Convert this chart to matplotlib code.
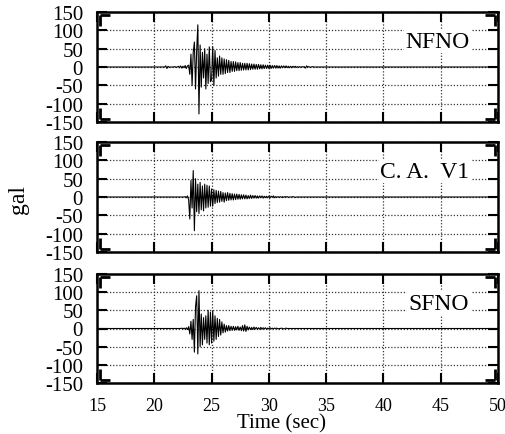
import numpy as np
import matplotlib
matplotlib.use('Agg')
import matplotlib.pyplot as plt

plt.rcParams['font.family'] = ['Liberation Serif', 'DejaVu Serif']
plt.rcParams['axes.unicode_minus'] = False

# sample times: flat start, 0.1 s samples from 20.0 to 34.0 s, flat end
t_start = 15.0
t_end = 50.0
t_first = 20.0
dt = 0.1

# accelerations (gal), one value per 0.1 s from 20.0 s to 34.0 s
nfno = [
    0, 0, 0, 0, 0, 0, 0, 0, 0, 0,
    3, -4, 2, -1, 0, 0, 0, 0, 1, -1,
    0, 2, -2, 3, -3, 2, -2, 4, -4, 3,
    5, -20, 35, -50, 40, 68, -60, 45, 115, -128,
    60, -55, 40, -30, 50, -60, 35, -45, 55, -40,
    -35, 55, -50, 45, -30, 25, -25, 30, -20, 25,
    -20, 22, -18, 20, -15, 18, -15, 15, -12, 15,
    -12, 14, -10, 12, -10, 12, -9, 10, -8, 10,
    -8, 10, -8, 9, -7, 8, -6, 8, -6, 7,
    -6, 7, -5, 6, -5, 6, -4, 5, -4, 5,
    -4, 5, -4, 4, -3, 4, -3, 4, -3, 3,
    -3, 3, -2, 3, -2, 3, -2, 2, -2, 2,
    -2, 2, -1, 2, -1, 1, -1, 1, -1, 1,
    0, 1, -3, 3, 0, 1, -1, 0, 1, 0, 0,
]
cav1 = [
    0, 0, 0, 0, 0, 0, 0, 0, 0, 0,
    0, 0, 0, 0, 0, 0, 0, 0, 0, 0,
    0, 0, 0, 0, 0, 0, 0, 1, -2, 3,
    -8, -60, 45, -30, 72, -92, 50, -40, 35, -45,
    40, -35, 30, -38, 35, -30, 32, -28, 30, -25,
    22, -25, 20, -18, 18, -15, 16, -14, 15, -12,
    12, -14, 11, -10, 12, -9, 10, -8, 9, -8,
    8, -7, 8, -6, 7, -6, 6, -5, 6, -5,
    5, -5, 4, -4, 5, -4, 4, -3, 4, -3,
    3, -3, 3, -2, 3, -3, 2, -2, 2, -2,
    2, -2, 2, -1, 3, -2, 1, -1, 1, -1,
    1, -1, 1, -1, 1, 0, 1, -1, 0, 0,
    0, 1, 0, -1, 0, 0, 0, 0, 0, 0,
    0, 0, 0, 0, 0, 0, 0, 0, 0, 0, 0,
]
sfno = [
    0, 0, 0, 0, 0, 0, 0, 0, 0, 0,
    0, 0, 0, 0, 0, 0, 0, 0, 0, 0,
    0, 0, 0, 0, 1, -1, 1, -2, 2, -3,
    5, -15, 20, -30, 25, -65, 60, 90, -70, 104,
    -50, 40, -45, 30, -30, 35, -40, 50, -45, 45,
    -40, 48, -35, 35, -30, 28, -22, 25, -18, 18,
    -12, 12, -10, 8, -7, 8, -6, 6, -5, 6,
    -5, 5, -4, 6, -5, 4, -6, 8, -7, 10,
    -8, 6, -4, 4, -3, 3, -3, 4, -2, 3,
    -2, 2, -2, 3, -2, 2, -1, 2, -2, 1,
    -1, 2, -1, 1, -1, 1, 0, 1, -1, 0,
    0, 1, 0, -1, 0, 1, 0, 0, 0, 0,
    0, 0, 0, 0, 0, 0, 0, 0, 0, 0,
    0, 0, 0, 0, 0, 0, 0, 0, 0, 0, 0,
]
names = ['NFNO', 'C. A.  V1', 'SFNO']
traces = [nfno, cav1, sfno]

xticks = [15, 20, 25, 30, 35, 40, 45, 50]
yticks = [-150, -100, -50, 0, 50, 100, 150]

fig = plt.figure(figsize=(5.06, 4.35), dpi=100)
left, width = 97 / 506, 401 / 506
rows = [(13, 123), (143, 253), (275, 384)]

for i, (top, bot) in enumerate(rows):
    ax = fig.add_axes([left, 1 - bot / 435, width, (bot - top) / 435])
    vals = traces[i]
    t = t_first + dt * np.arange(len(vals))
    t = np.concatenate([[t_start], t, [t_end]])
    v = np.concatenate([[0], vals, [0]])
    ax.plot(t, v, color='black', lw=0.8)
    ax.set_xlim(15, 50)
    ax.set_ylim(-150, 150)
    ax.set_xticks(xticks)
    ax.set_yticks(yticks)
    ax.grid(True, ls=(0, (1, 1.5)), color='#333333', lw=0.9)
    ax.tick_params(direction='in', length=7, width=1.5, top=True, right=True)
    ax.tick_params(axis='x', labelsize=13, pad=10)
    ax.tick_params(axis='y', labelsize=15, pad=10)
    for s in ax.spines.values():
        s.set_linewidth(1.8)
    # corner brackets
    for cx, cy, dx, dy in [(0, 0, 1, 1), (1, 0, -1, 1), (0, 1, 1, -1), (1, 1, -1, -1)]:
        x0 = cx + dx * 0.008
        y0 = cy + dy * 0.03
        ax.plot([x0, x0], [y0, y0 + dy * 0.1], color='black', lw=2.0,
                transform=ax.transAxes, clip_on=False, solid_capstyle='butt')
        ax.plot([x0, x0 + dx * 0.025], [y0, y0], color='black', lw=2.0,
                transform=ax.transAxes, clip_on=False, solid_capstyle='butt')
    if i < 2:
        ax.tick_params(labelbottom=False)
    ax.text(47.5, 70, names[i], ha='right', va='center', fontsize=17,
            bbox=dict(facecolor='white', edgecolor='none', pad=1))

fig.text(282 / 506, 1 - 424 / 435, 'Time (sec)',
         ha='center', va='center', fontsize=15)
fig.text(18 / 506, 1 - 200 / 435, 'gal', rotation=90, ha='center', va='center',
         fontsize=17)

fig.savefig('out.png', dpi=100)
